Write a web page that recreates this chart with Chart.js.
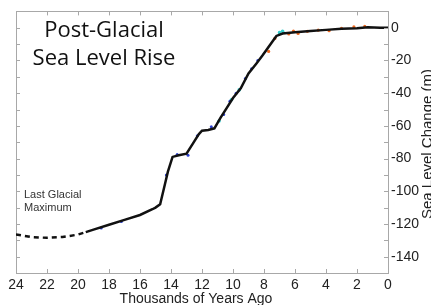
<!DOCTYPE html>
<html><head><meta charset="utf-8">
<script src="https://cdn.jsdelivr.net/npm/chart.js@4.4.0/dist/chart.umd.min.js"></script>
<style>html,body{margin:0;padding:0;background:#fff;overflow:hidden}</style>
</head><body><canvas id="c" width="431" height="305"></canvas>
<script>
// ---- data (thousands of years ago, sea level change in m) ----
const lgmAges   = [24, 23, 22, 21, 20, 19.5];
const lgmLevels = [-126.5, -128, -128.5, -128, -126.5, -125];

const ages   = [19.5, 19, 18, 17, 16, 15.2, 15, 14.7, 14.4, 14.2, 13.9, 13.5, 13.0, 12.6, 12.2, 12.0, 11.6, 11.2, 10.8, 10.4, 10.0, 9.5, 9.0, 8.5, 8.1, 7.8, 7.5, 7.2, 6.8, 6.0, 5.0, 4.0, 3.0, 2.0, 1.3, 0.5, 0];
const levels = [-125, -123.5, -120.5, -117.5, -114.5, -111, -110, -108, -96, -88, -79, -78, -77, -71, -65, -63, -62.5, -61.5, -55, -49, -43, -37, -28, -22, -17, -13, -9, -5, -3.5, -2.8, -2, -1.3, -0.6, -0.3, 0.3, 0, 0];

const blueAges   = [18.5, 17.2, 14.3, 13.6, 12.9, 12.3, 11.4, 10.6, 10.2, 9.8, 9.2, 8.8, 8.4];
const blueLevels = [-122.5, -118.5, -90, -77.5, -78, -66, -60.5, -53, -45, -40, -31, -25, -20];
const cyanAges   = [10.9, 10.1, 9.6, 7.0, 6.8];
const cyanLevels = [-57, -44, -38, -3, -2.2];
const warmAges   = [7.7, 7.3, 6.4, 6.1, 5.8, 5.2, 4.5, 3.8, 3.0, 2.2, 1.5];
const warmLevels = [-14.5, -6.5, -3.8, -2, -3.5, -2.2, -1.5, -1.8, -0.3, 0.5, 0.8];

const titleLines = ['Post-Glacial', 'Sea Level Rise'];
const noteLines  = ['Last Glacial', 'Maximum'];
const xTitle = 'Thousands of Years Ago';
const yTitle = 'Sea Level Change (m)';

const pts = (xs, ys) => xs.map((x, i) => ({x: x, y: ys[i]}));

const axisColor = '#a8a8a8';
const labelFont = {family: 'Liberation Sans, Arial, sans-serif', size: 14};

const decor = {
  id: 'decor',
  afterDraw(chart) {
    const ctx = chart.ctx, a = chart.chartArea;
    const xs = chart.scales.x, ys = chart.scales.y;
    ctx.save();
    ctx.strokeStyle = axisColor; ctx.lineWidth = 1;
    ctx.beginPath();
    xs.ticks.forEach(t => {
      const p = Math.round(xs.getPixelForValue(t.value)) + 0.5;
      ctx.moveTo(p, a.bottom); ctx.lineTo(p, a.bottom - 4);
      ctx.moveTo(p, a.top); ctx.lineTo(p, a.top + 4);
    });
    ys.ticks.forEach(t => {
      const p = Math.round(ys.getPixelForValue(t.value)) + 0.5;
      ctx.moveTo(a.left, p); ctx.lineTo(a.left + 4, p);
      ctx.moveTo(a.right, p); ctx.lineTo(a.right - 4, p);
    });
    ctx.stroke();
    // big title
    ctx.fillStyle = '#111';
    ctx.textAlign = 'center'; ctx.textBaseline = 'alphabetic';
    ctx.font = '22px "Open Sans", sans-serif';
    ctx.fillText(titleLines[0], 104, 37);
    ctx.fillText(titleLines[1], 104, 65);
    // note
    ctx.fillStyle = '#333';
    ctx.textAlign = 'left';
    ctx.font = '11px "Liberation Sans", Arial, sans-serif';
    ctx.fillText(noteLines[0], 24, 198);
    ctx.fillText(noteLines[1], 24, 211);
    // axis titles
    ctx.fillStyle = '#222';
    ctx.font = '14px "Liberation Sans", Arial, sans-serif';
    ctx.textAlign = 'center'; ctx.textBaseline = 'middle';
    ctx.fillText(xTitle, 196, 299);
    ctx.font = '15px "Liberation Sans", Arial, sans-serif';
    ctx.translate(428, 144);
    ctx.rotate(-Math.PI / 2);
    ctx.fillText(yTitle, 0, 0);
    ctx.restore();
  }
};

new Chart(document.getElementById('c'), {
  type: 'scatter',
  data: {
    datasets: [
      {type: 'line', data: pts(ages, levels), borderColor: '#111', borderWidth: 2.5, pointRadius: 0, tension: 0, fill: false},
      {type: 'line', data: pts(lgmAges, lgmLevels), borderColor: '#111', borderWidth: 2.5, borderDash: [5, 4], pointRadius: 0, tension: 0, fill: false},
      {data: pts(blueAges, blueLevels), backgroundColor: '#2a3fd0', borderWidth: 0, pointRadius: 1.5},
      {data: pts(cyanAges, cyanLevels), backgroundColor: '#33cccc', borderWidth: 0, pointRadius: 1.8},
      {data: pts(warmAges, warmLevels), backgroundColor: '#f06a20', borderWidth: 0, pointRadius: 1.6}
    ]
  },
  options: {
    responsive: false,
    animation: false,
    devicePixelRatio: 1,
    layout: {padding: {left: 16, top: 10, right: 0, bottom: 0}},
    plugins: {legend: {display: false}, tooltip: {enabled: false}, title: {display: false}},
    scales: {
      x: {
        type: 'linear', position: 'bottom', reverse: true, min: 0, max: 24,
        ticks: {stepSize: 2, autoSkip: false, maxRotation: 0, font: labelFont, color: '#222', padding: 4},
        grid: {display: true, drawOnChartArea: false, drawTicks: false},
        border: {display: true, color: axisColor, width: 1},
        afterFit: s => { s.height = 32; }
      },
      xTop: {
        type: 'linear', position: 'top', reverse: true, min: 0, max: 24,
        ticks: {display: false},
        grid: {display: true, drawOnChartArea: false, drawTicks: false},
        border: {display: true, color: axisColor, width: 1},
        afterFit: s => { s.height = 0; }
      },
      y: {
        type: 'linear', position: 'right', min: -150, max: 10,
        ticks: {stepSize: 10, autoSkip: false, font: labelFont, color: '#222', padding: 3,
          callback: v => (v % 20 === 0 && v <= 0 && v >= -140) ? String(v) : ''},
        grid: {display: true, drawOnChartArea: false, drawTicks: false},
        border: {display: true, color: axisColor, width: 1},
        afterFit: s => { s.width = 43; }
      },
      yL: {
        type: 'linear', position: 'left', min: -150, max: 10,
        ticks: {display: false},
        grid: {display: true, drawOnChartArea: false, drawTicks: false},
        border: {display: true, color: axisColor, width: 1},
        afterFit: s => { s.width = 0; }
      }
    }
  },
  plugins: [decor]
});
</script>
</body></html>
